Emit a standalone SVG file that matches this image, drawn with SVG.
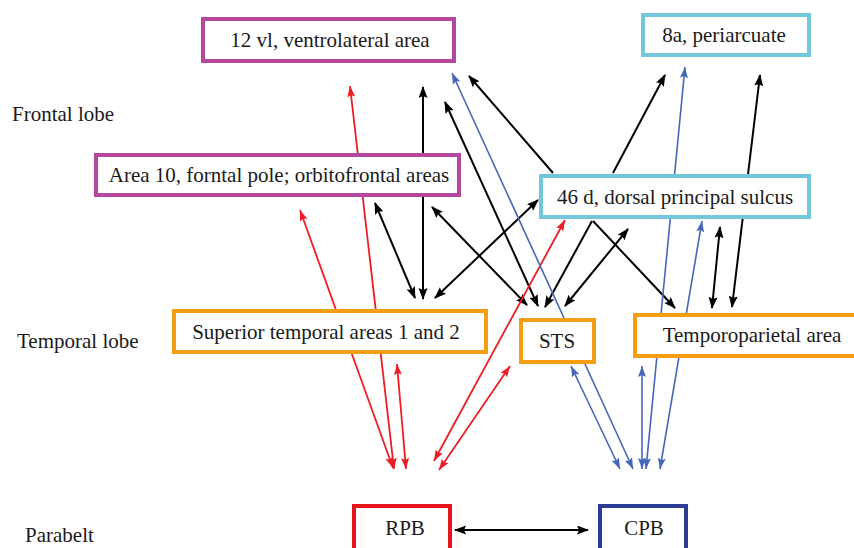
<svg xmlns="http://www.w3.org/2000/svg" width="854" height="548" viewBox="0 0 854 548">
<style>
text{font-family:"Liberation Serif","Times New Roman",serif;font-size:21px;fill:#1a1a1a}
.c{text-anchor:middle}
.box{fill:#fff;stroke-width:4}
.mag{stroke:#B5479D}
.cy{stroke:#72C7DD}
.or{stroke:#F59E12}
.rd{stroke:#E8141B}
.bl{stroke:#2B3C96}
.k{stroke:#000;stroke-width:2;fill:none;marker-start:url(#hk);marker-end:url(#hk)}
.k1{stroke:#000;stroke-width:2;fill:none;marker-end:url(#hk)}
.r{stroke:#EE1C25;stroke-width:1.8;fill:none;marker-start:url(#hr);marker-end:url(#hr)}
.b{stroke:#4667B9;stroke-width:1.6;fill:none;marker-start:url(#hb);marker-end:url(#hb)}
</style>
<defs>
<marker id="hk" markerUnits="userSpaceOnUse" markerWidth="12" markerHeight="10" refX="11" refY="4.5" orient="auto-start-reverse"><path d="M0,0 L12,4.5 L0,9 L2,4.5 z" fill="#000"/></marker>
<marker id="hr" markerUnits="userSpaceOnUse" markerWidth="12" markerHeight="10" refX="11" refY="4" orient="auto-start-reverse"><path d="M0,0 L11,4 L0,8 L2,4 z" fill="#EE1C25"/></marker>
<marker id="hb" markerUnits="userSpaceOnUse" markerWidth="12" markerHeight="10" refX="11" refY="4" orient="auto-start-reverse"><path d="M0,0 L11,4 L0,8 L2,4 z" fill="#4667B9"/></marker>
</defs>
<rect width="854" height="548" fill="#fff"/>
<g id="labels">
<text x="12" y="121">Frontal lobe</text>
<text x="17" y="348">Temporal lobe</text>
<text x="25" y="542">Parabelt</text>
</g>
<g id="connectors">
<line class="k" x1="423" y1="87" x2="423" y2="299"/>
<line class="k" x1="445" y1="102" x2="538" y2="306"/>
<line class="k1" x1="553" y1="173" x2="469" y2="76"/>
<line class="k" x1="375" y1="203" x2="415" y2="298"/>
<line class="k" x1="432" y1="207" x2="527" y2="305"/>
<line class="k" x1="538" y1="200" x2="435" y2="298"/>
<line class="k1" x1="592" y1="221" x2="545" y2="307"/>
<line class="k" x1="565" y1="306" x2="628" y2="229"/>
<line class="k1" x1="593" y1="221" x2="675" y2="308"/>
<line class="k1" x1="613" y1="173" x2="665" y2="75"/>
<line class="k" x1="760" y1="75" x2="732" y2="307"/>
<line class="k" x1="720" y1="227" x2="712" y2="308"/>
<line class="k" x1="455" y1="530" x2="588" y2="530"/>
<line class="r" x1="350" y1="86" x2="394" y2="469"/>
<line class="r" x1="300" y1="210" x2="393" y2="468"/>
<line class="r" x1="397" y1="364" x2="406" y2="469"/>
<line class="r" x1="565" y1="220" x2="434" y2="461"/>
<line class="r" x1="510" y1="366" x2="439" y2="470"/>
<line class="b" x1="452" y1="73" x2="633" y2="469"/>
<line class="b" x1="571" y1="366" x2="620" y2="469"/>
<line class="b" x1="642" y1="366" x2="642" y2="469"/>
<line class="b" x1="685" y1="67" x2="646" y2="469"/>
<line class="b" x1="702" y1="221" x2="660" y2="469"/>
</g>
<g id="n12vl"><rect class="box mag" x="203" y="19" width="251" height="42"/><text class="c" x="330" y="47">12 vl, ventrolateral area</text></g>
<g id="n8a"><rect class="box cy" x="643" y="15" width="166" height="40"/><text class="c" x="724" y="42">8a, periarcuate</text></g>
<g id="n10"><rect class="box mag" x="96" y="155" width="363" height="40"/><text class="c" x="279" y="182">Area 10, forntal pole; orbitofrontal areas</text></g>
<g id="n46d"><rect class="box cy" x="541" y="176" width="268" height="41"/><text class="c" x="675" y="204">46 d, dorsal principal sulcus</text></g>
<g id="nST"><rect class="box or" x="174" y="311" width="312" height="41"/><text class="c" x="326" y="339">Superior temporal areas 1 and 2</text></g>
<g id="nSTS"><rect class="box or" x="521" y="320" width="73" height="42"/><text class="c" x="557" y="348">STS</text></g>
<g id="nTP"><rect class="box or" x="635" y="315" width="225" height="41"/><text class="c" x="752" y="342">Temporoparietal area</text></g>
<g id="nRPB"><rect class="box rd" x="354" y="506" width="96" height="50"/><text class="c" x="405" y="535">RPB</text></g>
<g id="nCPB"><rect class="box bl" x="600" y="506" width="86" height="50"/><text class="c" x="644" y="535">CPB</text></g>
</svg>
